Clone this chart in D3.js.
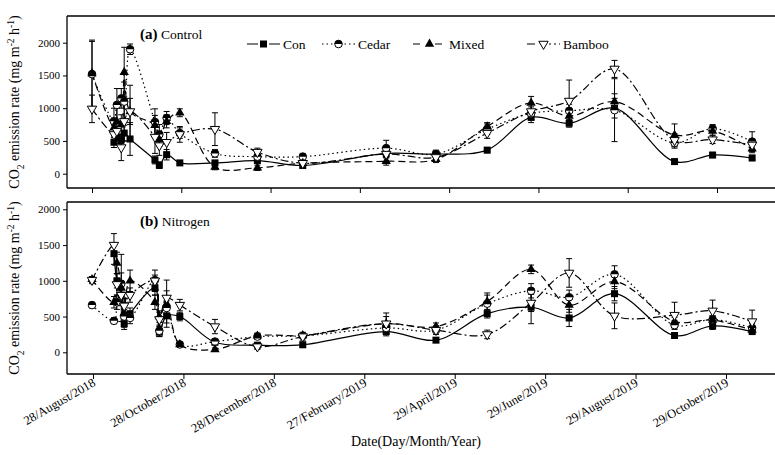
<!DOCTYPE html>
<html lang="en">
<head>
<meta charset="UTF-8">
<title>CO2 emission rate</title>
<script src="https://d3js.org/d3.v7.min.js"></script>
<style>
  body { margin: 0; background: #fff; }
  svg, svg text { font-family: "Liberation Serif", "DejaVu Serif", serif !important; fill: #000; }
  .axis path.domain { display: none; }
  .axis line { stroke: #000; }
  .axis text { font-size: 11px; }
</style>
</head>
<body>
<div id="chart"></div>
<script>
// sampling dates
const dates = ["2018-08-28","2018-09-12","2018-09-14","2018-09-17","2018-09-19","2018-09-23",
  "2018-10-10","2018-10-13","2018-10-18","2018-10-27","2018-11-20","2018-12-19","2019-01-19",
  "2019-03-17","2019-04-20","2019-05-25","2019-06-24","2019-07-20","2019-08-20","2019-09-30",
  "2019-10-26","2019-11-22"];

const seriesNames = ["Con", "Cedar", "Mixed", "Bamboo"];

// (a) Control
const conA    = [null, 480, 560, 520, 620, 530, 210, 130, 290, 165, 165, 200, 125, 310, 300, 360, 860, 770, 1000, 185, 285, 240];
const cedarA  = [1520, 800, 1050, 1150, 1100, 1900, 790, 600, 850, 620, 310, 260, 260, 390, 300, 680, 920, 960, 970, 470, 690, 490];
const mixedA  = [1530, 700, 800, 750, 1550, 950, 740, 520, 800, 930, 100, 90, 160, 190, 220, 720, 1080, 880, 1100, 590, 650, 380];
const bambooA = [990, 600, 650, 400, 800, 950, 560, 430, 480, 600, 680, 330, 160, 300, 250, 620, 950, 1110, 1600, 510, 520, 440];
const conAErr    = [0, 80, 100, 60, 120, 250, 60, 50, 80, 30, 20, 30, 30, 60, 40, 40, 80, 60, 150, 30, 40, 40];
const cedarAErr  = [500, 200, 250, 150, 300, 80, 200, 150, 100, 80, 60, 60, 50, 120, 60, 80, 100, 100, 480, 80, 60, 150];
const mixedAErr  = [510, 150, 200, 150, 380, 200, 150, 100, 100, 60, 40, 40, 40, 60, 50, 60, 100, 80, 120, 170, 60, 60];
const bambooAErr = [210, 150, 150, 200, 300, 400, 250, 150, 150, 120, 250, 60, 40, 60, 40, 80, 120, 320, 130, 100, 60, 80];

// (b) Nitrogen
const conB    = [null, 1380, 1000, 800, 400, 540, 900, 280, 510, 500, 140, 100, 105, 290, 170, 540, 630, 480, 820, 235, 370, 290];
const cedarB  = [660, 440, 700, 960, 500, 480, 1010, 300, 620, 110, 150, 220, 230, 340, 310, 680, 860, 770, 1090, 380, 460, 340];
const mixedB  = [1020, 700, 1250, 900, 550, 1000, 700, 500, 680, 110, 40, 230, 235, 400, 360, 710, 1160, 660, 990, 430, 450, 310];
const bambooB = [1010, 1500, 950, 800, 650, 800, 1000, 460, 760, 660, 360, 80, 220, 400, 310, 250, 690, 1110, 510, 520, 580, 430];
const conBErr    = [0, 150, 100, 100, 80, 80, 100, 60, 100, 60, 30, 30, 30, 60, 30, 60, 230, 120, 100, 30, 50, 40];
const cedarBErr  = [40, 40, 100, 150, 100, 80, 70, 80, 100, 20, 30, 40, 40, 80, 40, 120, 100, 100, 120, 60, 50, 60];
const mixedBErr  = [40, 80, 150, 470, 200, 150, 100, 80, 330, 30, 20, 40, 40, 150, 50, 120, 60, 100, 100, 60, 60, 50];
const bambooBErr = [50, 160, 150, 150, 100, 100, 150, 100, 100, 80, 100, 40, 60, 100, 60, 60, 120, 200, 180, 180, 150, 160];

const tickDates = ["2018-08-28","2018-10-28","2018-12-28","2019-02-27","2019-04-29","2019-06-29","2019-08-29","2019-10-29"];
const tickLabels = ["28/August/2018","28/October/2018","28/December/2018","27/February/2019",
  "29/April/2019","29/June/2019","29/August/2019","29/October/2019"];
const yTicks = [0, 500, 1000, 1500, 2000];

const W = 775, H = 455;
const FONT = "'Liberation Serif', 'DejaVu Serif', serif";
const parse = d3.timeParse("%Y-%m-%d");
const dt = dates.map(parse);
const tdt = tickDates.map(parse);

const svg = d3.select("#chart").append("svg").attr("width", W).attr("height", H).attr("font-family", FONT);

const left = 67, right = 775;
const xData = d3.scaleTime().domain([tdt[0], tdt[7]]).range([92, 717]);
const xTickA = xData;
const xTickB = d3.scaleTime().domain([tdt[0], tdt[7]]).range([93, 726]);

const styles = {
  Con:    { dash: null,        marker: "square" },
  Cedar:  { dash: "1.5,3",     marker: "halfcircle" },
  Mixed:  { dash: "7,4",       marker: "triangle" },
  Bamboo: { dash: "8,3,2,3",   marker: "tridown" }
};

function drawMarker(g, type, cx, cy) {
  if (type === "square") {
    g.append("rect").attr("x", cx - 3.5).attr("y", cy - 3.5).attr("width", 7).attr("height", 7).attr("fill", "#000");
  } else if (type === "halfcircle") {
    g.append("circle").attr("cx", cx).attr("cy", cy).attr("r", 3.8).attr("fill", "#fff").attr("stroke", "#000").attr("stroke-width", 1);
    g.append("path").attr("d", `M${cx - 3.8},${cy} A3.8,3.8 0 0 1 ${cx + 3.8},${cy} Z`).attr("fill", "#000");
  } else if (type === "triangle") {
    g.append("path").attr("d", d3.symbol(d3.symbolTriangle, 38)()).attr("transform", `translate(${cx},${cy})`).attr("fill", "#000");
  } else {
    g.append("path").attr("d", d3.symbol(d3.symbolTriangle, 38)()).attr("transform", `translate(${cx},${cy}) rotate(180)`)
      .attr("fill", "#fff").attr("stroke", "#000").attr("stroke-width", 1);
  }
}

function panel(cfg) {
  const { top, bottom, y0, y2000, values, errors, label, sub, labY, xTick, showLabels } = cfg;
  const y = d3.scaleLinear().domain([0, 2000]).range([y0, y2000]);
  const g = svg.append("g");

  // frame
  g.append("line").attr("x1", left).attr("x2", left).attr("y1", top).attr("y2", bottom).attr("stroke", "#000").attr("stroke-width", 1.3);
  g.append("line").attr("x1", left).attr("x2", right).attr("y1", top).attr("y2", top).attr("stroke", "#000").attr("stroke-width", 1.3);
  g.append("line").attr("x1", left).attr("x2", right).attr("y1", bottom).attr("y2", bottom).attr("stroke", "#000").attr("stroke-width", 1.3);

  g.append("g").attr("class", "axis").attr("transform", `translate(${left},0)`)
    .call(d3.axisLeft(y).tickValues(yTicks).tickSize(4).tickPadding(3).tickFormat(d3.format("d")))
    .attr("font-family", FONT);

  const xa = g.append("g").attr("class", "axis").attr("transform", `translate(0,${bottom})`)
    .call(d3.axisBottom(xTick).tickValues(tdt).tickSize(5).tickFormat((d, i) => showLabels ? tickLabels[i] : ""))
    .attr("font-family", FONT);
  if (showLabels) {
    xa.selectAll("text").style("font-size", "12.5px").attr("text-anchor", "end")
      .attr("dx", "0").attr("dy", "0").attr("y", 11).attr("x", -3)
      .attr("transform", "rotate(-30)");
  }

  // panel title
  const t = g.append("text").attr("x", 140).attr("y", labY);
  t.append("tspan").attr("font-weight", "bold").style("font-size", "15px").text(label);
  t.append("tspan").style("font-size", "13.5px").text(" " + sub);

  // y title
  const yt = g.append("text").attr("transform", `translate(19,${(top + bottom) / 2}) rotate(-90)`)
    .attr("text-anchor", "middle").style("font-size", "14px");
  yt.append("tspan").text("CO");
  yt.append("tspan").attr("baseline-shift", "sub").style("font-size", "9.5px").text("2");
  yt.append("tspan").text(" emission rate (mg m");
  yt.append("tspan").attr("baseline-shift", "super").style("font-size", "9.5px").text("-2");
  yt.append("tspan").text(" h");
  yt.append("tspan").attr("baseline-shift", "super").style("font-size", "9.5px").text("-1");
  yt.append("tspan").text(")");

  seriesNames.forEach((name, si) => {
    const vals = values[si], errs = errors[si];
    const pts = vals.map((v, i) => ({ d: dt[i], v, e: errs[i] })).filter(p => p.v !== null);
    const line = d3.line().x(p => xData(p.d)).y(p => y(p.v)).curve(d3.curveCatmullRom.alpha(0.5));
    g.append("path").datum(pts).attr("d", line).attr("fill", "none").attr("stroke", "#000")
      .attr("stroke-width", 1.2).attr("stroke-dasharray", styles[name].dash);
    const eb = g.append("g");
    pts.filter(p => p.e > 0).forEach(p => {
      const cx = xData(p.d);
      eb.append("line").attr("x1", cx).attr("x2", cx).attr("y1", y(p.v - p.e)).attr("y2", y(p.v + p.e)).attr("stroke", "#000").attr("stroke-width", 1);
      [p.v - p.e, p.v + p.e].forEach(v => eb.append("line").attr("x1", cx - 3).attr("x2", cx + 3).attr("y1", y(v)).attr("y2", y(v)).attr("stroke", "#000").attr("stroke-width", 1));
    });
  });
  seriesNames.forEach((name, si) => {
    values[si].forEach((v, i) => { if (v !== null) drawMarker(g, styles[name].marker, xData(dt[i]), y(v)); });
  });
}

panel({ top: 16, bottom: 188, y0: 173.7, y2000: 42.7, values: [conA, cedarA, mixedA, bambooA],
  errors: [conAErr, cedarAErr, mixedAErr, bambooAErr], label: "(a)", sub: "Control", labY: 39, xTick: xTickA, showLabels: false });
panel({ top: 202, bottom: 374, y0: 352.3, y2000: 209.3, values: [conB, cedarB, mixedB, bambooB],
  errors: [conBErr, cedarBErr, mixedBErr, bambooBErr], label: "(b)", sub: "Nitrogen", labY: 226, xTick: xTickB, showLabels: true });

// legend
const legendX = [247, 322, 413, 527];
const lg = svg.append("g");
seriesNames.forEach((name, i) => {
  const x0 = legendX[i], ly = 44;
  lg.append("line").attr("x1", x0).attr("x2", x0 + 33).attr("y1", ly).attr("y2", ly).attr("stroke", "#000")
    .attr("stroke-width", 1.2).attr("stroke-dasharray", styles[name].dash);
  lg.append("rect").attr("x", x0 + 11).attr("y", ly - 5).attr("width", 11).attr("height", 10).attr("fill", "#fff");
  drawMarker(lg, styles[name].marker, x0 + 16.5, ly);
  lg.append("text").attr("x", x0 + 36).attr("y", ly + 4.5).style("font-size", "13.5px").text(name);
});

svg.append("text").attr("x", 416).attr("y", 446).attr("text-anchor", "middle").style("font-size", "14px").text("Date(Day/Month/Year)");
</script>
</body>
</html>
